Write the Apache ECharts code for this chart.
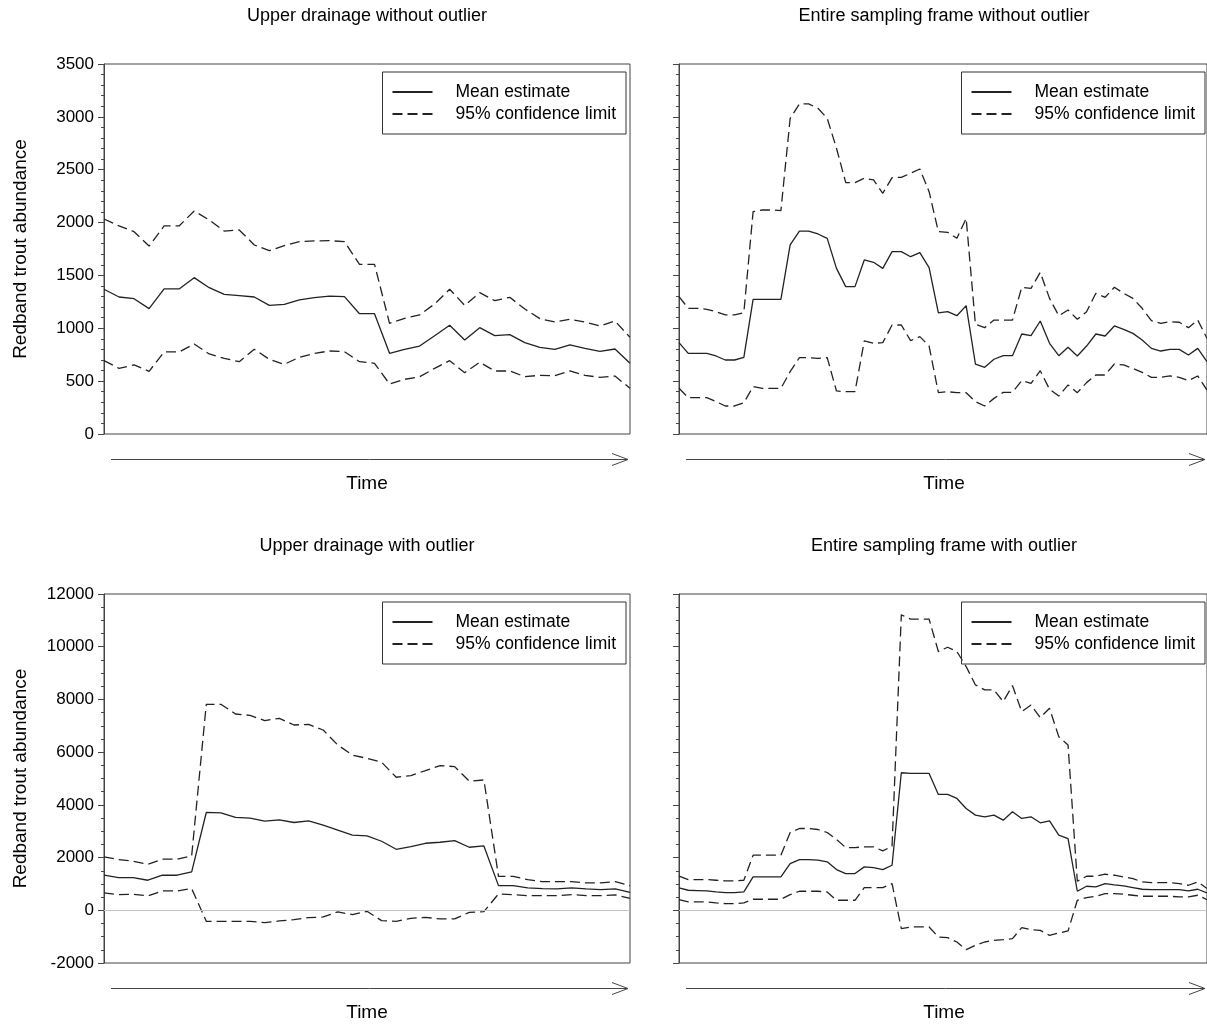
<!DOCTYPE html>
<html>
<head>
<meta charset="utf-8">
<title>Redband trout abundance</title>
<script src="https://cdn.jsdelivr.net/npm/echarts@6/dist/echarts.min.js"></script>
<style>
html, body { margin: 0; padding: 0; background: #fff; }
#main { width: 1207px; height: 1026px; }
</style>
</head>
<body>
<div id="main"></div>
<script>
// Upper drainage without outlier (36 sampling times)
var upperNoMean  = [1369, 1296, 1280, 1186, 1372, 1372, 1479, 1384, 1321, 1309, 1296, 1217, 1226, 1268, 1290, 1305, 1299, 1138, 1138, 763, 801, 832, 930, 1028, 889, 1006, 930, 940, 864, 820, 801, 842, 810, 782, 804, 669];
var upperNoHigh  = [2034, 1968, 1914, 1778, 1968, 1968, 2110, 2024, 1920, 1930, 1788, 1734, 1782, 1819, 1826, 1829, 1819, 1605, 1605, 1047, 1094, 1126, 1230, 1369, 1217, 1337, 1261, 1293, 1183, 1091, 1060, 1085, 1060, 1022, 1069, 915];
var upperNoLow   = [694, 621, 653, 593, 776, 776, 851, 757, 716, 684, 801, 707, 659, 726, 763, 785, 779, 684, 669, 473, 517, 542, 621, 694, 580, 678, 596, 596, 542, 555, 552, 596, 555, 536, 548, 432];

// Entire sampling frame without outlier (58 sampling times)
var entireNoMean = [864, 763, 763, 763, 738, 700, 700, 725, 1274, 1274, 1274, 1274, 1788, 1920, 1920, 1892, 1851, 1567, 1394, 1394, 1646, 1624, 1567, 1725, 1725, 1677, 1715, 1573, 1145, 1157, 1119, 1214, 662, 631, 707, 741, 741, 946, 930, 1069, 858, 741, 820, 738, 832, 946, 927, 1022, 990, 952, 889, 810, 785, 801, 801, 747, 810, 684];
var entireNoHigh = [1299, 1189, 1189, 1179, 1157, 1126, 1126, 1148, 2103, 2119, 2119, 2113, 2986, 3122, 3122, 3081, 2986, 2703, 2378, 2378, 2419, 2403, 2277, 2425, 2428, 2466, 2507, 2292, 1914, 1908, 1851, 2040, 1037, 1006, 1078, 1078, 1078, 1388, 1378, 1529, 1283, 1119, 1173, 1085, 1157, 1331, 1293, 1388, 1331, 1283, 1189, 1072, 1047, 1063, 1057, 1006, 1078, 905];
var entireNoLow  = [432, 344, 344, 344, 306, 265, 265, 296, 448, 432, 432, 432, 590, 722, 722, 716, 722, 407, 400, 400, 880, 858, 864, 1031, 1031, 883, 921, 832, 391, 400, 391, 391, 306, 265, 337, 394, 394, 505, 479, 599, 423, 359, 464, 391, 486, 558, 558, 662, 653, 621, 583, 536, 536, 549, 536, 505, 549, 416];

// Upper drainage with outlier (37 sampling times)
var upperOutMean = [1330, 1241, 1241, 1140, 1330, 1330, 1457, 3711, 3699, 3522, 3496, 3382, 3433, 3331, 3395, 3230, 3040, 2850, 2825, 2619, 2315, 2416, 2543, 2581, 2644, 2391, 2441, 936, 936, 848, 822, 810, 848, 810, 784, 810, 683];
var upperOutHigh = [2027, 1925, 1862, 1748, 1938, 1938, 2065, 7815, 7815, 7448, 7397, 7195, 7283, 7030, 7055, 6840, 6270, 5890, 5763, 5617, 5047, 5111, 5300, 5490, 5452, 4896, 4946, 1290, 1290, 1164, 1088, 1088, 1088, 1037, 1037, 1088, 936];
var upperOutLow  = [659, 595, 608, 545, 735, 735, 823, -418, -418, -418, -418, -469, -405, -355, -279, -253, -63, -165, -38, -392, -417, -304, -266, -329, -329, -76, -51, 620, 595, 557, 557, 557, 595, 557, 557, 582, 455];

// Entire sampling frame with outlier (58 sampling times)
var entireOutMean = [848, 760, 748, 735, 697, 671, 671, 697, 1267, 1267, 1267, 1267, 1773, 1925, 1925, 1900, 1837, 1545, 1393, 1393, 1647, 1621, 1545, 1710, 5219, 5193, 5193, 5193, 4395, 4395, 4243, 3863, 3610, 3547, 3610, 3420, 3737, 3483, 3547, 3319, 3395, 2850, 2723, 722, 912, 887, 1013, 963, 925, 861, 798, 785, 785, 785, 785, 735, 798, 659];
var entireOutHigh = [1292, 1165, 1165, 1165, 1140, 1115, 1115, 1140, 2090, 2090, 2090, 2090, 2951, 3103, 3103, 3065, 2951, 2685, 2381, 2381, 2407, 2407, 2255, 2432, 11210, 11045, 11045, 11045, 9817, 9981, 9817, 9247, 8550, 8360, 8360, 7917, 8525, 7537, 7790, 7309, 7663, 6587, 6270, 1102, 1292, 1292, 1368, 1330, 1267, 1203, 1077, 1051, 1051, 1051, 1013, 950, 1077, 823];
var entireOutLow  = [405, 317, 317, 317, 279, 253, 253, 279, 418, 418, 418, 418, 595, 722, 722, 722, 697, 380, 380, 380, 861, 861, 861, 1013, -697, -633, -633, -633, -1013, -1039, -1203, -1495, -1330, -1203, -1140, -1115, -1077, -659, -735, -760, -950, -861, -785, 380, 481, 532, 633, 633, 608, 570, 532, 532, 532, 532, 507, 507, 570, 405];

// y axis ticks
var ticksNoOutlier = [0, 3500, 500];     // min, max, step
var ticksOutlier   = [-2000, 12000, 2000];

var font = '"Liberation Sans", Arial, sans-serif';
var ink = '#222';
var frame = '#444';
var W = 1207;

// right hand panels run past the edge of the picture
var panels = [
  {title: 'Upper drainage without outlier', left: 104, top: 64, width: 526, height: 370, ticks: ticksNoOutlier, minor: 5, labels: true,
   mean: upperNoMean, high: upperNoHigh, low: upperNoLow, arrow: [111, 628]},
  {title: 'Entire sampling frame without outlier', left: 679, top: 64, width: 530, height: 370, ticks: ticksNoOutlier, minor: 5, labels: false,
   mean: entireNoMean, high: entireNoHigh, low: entireNoLow, arrow: [686, 1205]},
  {title: 'Upper drainage with outlier', left: 104, top: 594, width: 526, height: 369, ticks: ticksOutlier, minor: 4, labels: true,
   mean: upperOutMean, high: upperOutHigh, low: upperOutLow, arrow: [111, 628], zero: true},
  {title: 'Entire sampling frame with outlier', left: 679, top: 594, width: 530, height: 369, ticks: ticksOutlier, minor: 4, labels: false,
   mean: entireOutMean, high: entireOutHigh, low: entireOutLow, arrow: [686, 1205], zero: true}
];

var titles = [], grids = [], xAxes = [], yAxes = [], legends = [], series = [], graphics = [];

panels.forEach(function (p, i) {
  var times = [];
  for (var k = 0; k < p.mean.length; k++) times.push(String(k + 1));

  titles.push({
    text: p.title, left: p.left + p.width / 2, top: p.top - 57, textAlign: 'center', padding: 0,
    textStyle: {fontSize: 18, fontWeight: 'normal', color: '#000', fontFamily: font}
  });
  grids.push({
    left: p.left, top: p.top, width: p.width, height: p.height,
    show: true, borderColor: frame, borderWidth: 1, backgroundColor: 'transparent'
  });
  xAxes.push({
    gridIndex: i, type: 'category', data: times, boundaryGap: false,
    axisLine: {show: false}, axisTick: {show: false}, axisLabel: {show: false}, splitLine: {show: false}
  });
  yAxes.push({
    gridIndex: i, type: 'value', min: p.ticks[0], max: p.ticks[1], interval: p.ticks[2],
    axisLine: {show: true, lineStyle: {color: frame}},
    axisTick: {show: true, length: 6, lineStyle: {color: frame}},
    minorTick: {show: true, splitNumber: p.minor, length: 3, lineStyle: {color: frame}},
    splitLine: {show: false},
    axisLabel: {
      show: p.labels, fontSize: 17, color: '#000', fontFamily: font, margin: 10,
      formatter: function (v) { return String(v); }
    },
    name: p.labels ? 'Redband trout abundance' : '', nameLocation: 'middle', nameRotate: 90, nameGap: 74,
    nameTextStyle: {fontSize: 19, color: '#000', fontFamily: font}
  });
  legends.push({
    orient: 'vertical', right: p.labels ? W - (p.left + p.width - 4) : 2, top: p.top + 8,
    data: ['Mean estimate', '95% confidence limit'], selectedMode: false,
    itemWidth: 40, itemHeight: 14, itemGap: 4,
    itemStyle: {opacity: 0},
    borderColor: '#333', borderWidth: 1, padding: [11, 10, 11, 9],
    textStyle: {fontSize: 17.5, color: '#000', fontFamily: font, padding: [0, 0, 0, 18]}
  });

  // time arrow and its label under the panel
  var ay = p.top + p.height + 25.5;
  var x1 = p.arrow[0], x2 = p.arrow[1];
  graphics.push({
    type: 'polyline', silent: true,
    shape: {points: [[x1, ay], [x2, ay]]},
    style: {stroke: frame, lineWidth: 1, fill: null}
  });
  graphics.push({
    type: 'polyline', silent: true,
    shape: {points: [[x2 - 16, ay - 6], [x2, ay], [x2 - 16, ay + 6]]},
    style: {stroke: frame, lineWidth: 1, fill: null}
  });
  graphics.push({
    type: 'text', silent: true, x: p.left + p.width / 2, y: ay + 24.5,
    style: {text: 'Time', fontSize: 19, fontFamily: font, fill: '#000', align: 'center', verticalAlign: 'middle'}
  });

  var mean = {
    name: 'Mean estimate', type: 'line', xAxisIndex: i, yAxisIndex: i, data: p.mean,
    symbol: 'none', silent: true, z: 3,
    lineStyle: {color: ink, width: 1.3, type: 'solid'}, itemStyle: {color: ink}
  };
  if (p.zero) {
    mean.markLine = {
      silent: true, symbol: ['none', 'none'], label: {show: false},
      lineStyle: {color: '#c4c4c4', type: 'solid', width: 1},
      data: [{yAxis: 0}]
    };
  }
  series.push(mean);
  [p.high, p.low].forEach(function (band) {
    series.push({
      name: '95% confidence limit', type: 'line', xAxisIndex: i, yAxisIndex: i, data: band,
      symbol: 'none', silent: true, z: 3,
      lineStyle: {color: ink, width: 1.3, type: [10, 5]}, itemStyle: {color: ink}
    });
  });
});

var chart = echarts.init(document.getElementById('main'));
chart.setOption({
  backgroundColor: '#fff',
  animation: false,
  textStyle: {fontFamily: font},
  title: titles,
  grid: grids,
  xAxis: xAxes,
  yAxis: yAxes,
  legend: legends,
  graphic: graphics,
  series: series
});
</script>
</body>
</html>
